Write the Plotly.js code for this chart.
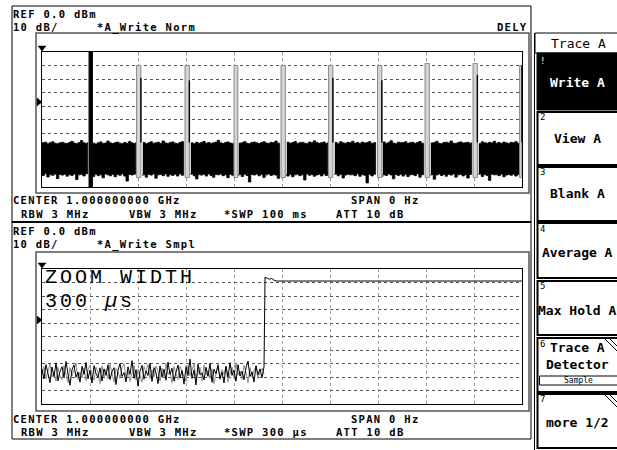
<!DOCTYPE html>
<html><head><meta charset="utf-8">
<script src="https://cdn.plot.ly/plotly-3.0.1.min.js"></script>
<style>html,body{margin:0;padding:0;background:#fff}#chart{width:617px;height:450px}</style>
</head><body><div id="chart"></div>
<script>
// ---------- DATA ----------
// Top trace (100 ms sweep): noise band envelopes, sampled every 0.5 ms (dBm)
const topStepMs = 0.5;
const noiseUpper = [
-67.2,-66.8,-67.9,-67.1,-66.5,-67.6,-68.0,-67.3,-66.9,-67.5,
-67.8,-67.0,-66.2,-67.4,-67.9,-67.1,-65.6,-67.3,-67.7,-66.9,
-67.0,-67.5,-68.1,-67.2,-66.6,-67.7,-67.4,-66.0,-67.3,-67.8,
-67.2,-66.7,-67.5,-67.9,-67.0,-67.6,-66.3,-67.2,-67.8,-67.1,
-66.9,-67.4,-67.0,-68.0,-67.3,-66.5,-67.6,-67.2,-66.8,-67.7,
-65.9,-67.3,-67.8,-67.0,-66.6,-67.5,-67.9,-67.1,-66.4,-67.4,
-67.6,-66.8,-67.3,-67.9,-66.9,-67.5,-67.1,-66.2,-67.6,-67.0,
-67.7,-67.2,-66.7,-65.4,-67.3,-67.8,-67.0,-66.6,-67.4,-67.9,
-67.1,-66.8,-67.5,-67.2,-66.4,-67.6,-67.9,-67.0,-66.7,-67.3,
-67.8,-67.1,-66.5,-67.4,-67.7,-66.9,-67.2,-66.0,-67.5,-67.8,
-67.0,-67.4,-66.8,-67.6,-67.1,-66.3,-67.7,-67.2,-66.9,-67.5,
-67.9,-66.6,-67.3,-65.8,-67.0,-67.6,-67.2,-66.7,-67.8,-67.1,
-66.8,-67.5,-67.0,-67.9,-66.5,-67.3,-67.7,-66.9,-67.2,-66.1,
-67.6,-67.0,-67.8,-66.7,-67.4,-67.1,-66.4,-67.7,-67.3,-66.9,
-67.5,-67.2,-66.6,-67.8,-67.0,-65.7,-67.4,-67.9,-66.8,-67.3,
-67.1,-66.5,-67.6,-67.2,-66.9,-67.7,-67.0,-66.3,-67.5,-67.8,
-67.2,-66.7,-67.4,-67.0,-66.2,-67.6,-67.9,-67.1,-66.8,-67.3,
-65.9,-67.5,-67.8,-67.0,-66.6,-67.4,-67.2,-66.9,-67.7,-67.1,
-66.8,-67.3,-67.9,-66.5,-67.2,-67.6,-66.9,-67.4,-66.1,-67.5,
-67.0,-67.7,-66.7,-67.3,-67.8,-66.9,-67.2,-66.4,-67.6,-67.0,
-67.3];
const noiseLower = [
-90.8,-91.5,-90.2,-92.6,-90.9,-91.3,-90.4,-93.8,-90.7,-91.2,
-90.5,-92.0,-90.9,-91.4,-90.3,-94.5,-91.0,-90.6,-91.8,-90.2,
-91.1,-90.7,-92.3,-90.5,-91.6,-90.9,-93.2,-90.4,-91.0,-91.7,
-90.6,-92.4,-90.8,-91.3,-90.2,-91.9,-95.6,-90.7,-91.1,-90.5,
-91.4,-90.3,-91.8,-90.9,-92.7,-90.6,-91.2,-90.4,-93.5,-91.0,
-90.7,-91.6,-90.3,-92.1,-90.8,-91.4,-90.5,-91.9,-90.2,-91.3,
-92.5,-90.6,-91.1,-90.4,-91.7,-94.0,-90.8,-91.2,-90.5,-91.9,
-90.3,-91.5,-92.8,-90.7,-91.0,-90.4,-91.6,-90.9,-93.1,-90.6,
-91.3,-90.2,-91.8,-90.7,-92.2,-90.5,-91.4,-96.3,-90.8,-91.1,
-90.4,-91.7,-90.6,-92.9,-91.0,-90.3,-91.5,-90.8,-91.2,-93.6,
-90.7,-91.4,-90.2,-91.9,-90.6,-92.4,-91.0,-90.5,-91.6,-90.9,
-94.8,-90.4,-91.3,-90.7,-92.0,-91.1,-90.5,-91.8,-90.3,-91.5,
-90.8,-92.6,-91.0,-90.4,-91.7,-90.6,-93.3,-91.2,-90.5,-91.0,
-90.9,-91.6,-90.2,-92.1,-90.7,-91.3,-97.0,-90.5,-91.8,-90.6,
-91.2,-90.4,-92.5,-90.9,-91.5,-90.3,-91.1,-93.9,-90.7,-91.4,
-90.6,-91.9,-90.5,-92.3,-91.0,-90.8,-91.6,-90.2,-92.8,-90.9,
-91.3,-90.5,-91.7,-90.8,-94.2,-91.1,-90.4,-91.5,-90.7,-92.0,
-90.6,-91.2,-90.3,-92.7,-91.0,-90.5,-91.8,-90.9,-93.4,-90.7,
-91.4,-90.6,-91.1,-90.3,-92.2,-90.8,-91.5,-95.1,-90.5,-91.0,
-90.9,-91.6,-90.4,-92.4,-91.2,-90.7,-91.3,-90.5,-91.9,-90.8,
-91.1];
// Bursts in the top trace (ms, dBm)
const pulseStart = [9.8, 19.7, 29.8, 40.0, 49.8, 59.7, 69.9, 79.8, 89.8, 99.5];
const pulseEnd   = [10.5, 20.6, 30.7, 40.8, 50.7, 60.6, 70.8, 80.7, 90.7, 100.0];
const pulseTop   = [0, -10, -10, -10, -10, -10, -10, -8.5, -8.5, -10];
const pulseEdge  = [null, -19, -21, null, null, -19, -21, null, -17, -10];
const pulseFloor = -93;

// Bottom trace (300 us sweep): noise before the burst, every 1.25 us (dBm)
const botStepUs = 1.25;
const noiseBlack = [
-74.0,-81.5,-70.8,-78.9,-84.2,-72.6,-79.7,-69.5,-82.8,-75.9,
-72.3,-80.6,-68.4,-77.8,-86.1,-74.5,-71.0,-80.2,-76.3,-83.9,
-72.0,-78.1,-69.2,-81.4,-74.9,-84.5,-71.6,-77.4,-80.3,-73.2,
-83.0,-74.0,-78.8,-70.9,-81.9,-76.0,-73.1,-85.6,-75.1,-70.1,
-79.6,-76.8,-83.7,-72.5,-78.0,-67.9,-80.9,-74.6,-86.8,-75.8,
-71.4,-81.7,-75.6,-78.9,-69.9,-83.3,-73.0,-77.0,-84.9,-71.8,
-79.9,-74.2,-82.4,-69.0,-78.1,-73.5,-83.0,-76.4,-71.2,-80.8,
-75.2,-85.3,-72.4,-78.9,-66.8,-81.1,-74.7,-85.9,-70.5,-78.4,
-76.9,-82.1,-72.8,-79.6,-69.8,-84.0,-74.3,-77.6,-71.5,-81.6,
-76.4,-84.4,-72.0,-80.1,-69.3,-78.8,-74.9,-83.2,-70.9,-79.3,
-75.7,-82.0,-73.2,-68.3,-79.7,-76.1,-83.8,-71.7,-78.3,-74.0,
-80.6,-72.5];
const noiseGray = [
-78.6,-72.1,-81.2,-75.0,-70.3,-80.0,-76.2,-83.1,-72.8,-79.2,
-82.0,-71.5,-77.0,-84.1,-73.0,-79.4,-74.6,-69.6,-81.8,-76.5,
-80.6,-73.2,-82.6,-74.9,-71.1,-78.8,-82.2,-72.7,-76.8,-84.8,
-71.9,-79.8,-74.3,-81.5,-70.6,-77.6,-83.8,-73.6,-76.2,-81.0,
-72.9,-70.1,-80.4,-75.3,-83.2,-77.2,-71.5,-82.3,-74.1,-78.5,
-83.9,-72.3,-76.6,-70.7,-81.2,-74.8,-80.0,-71.7,-76.0,-83.0,
-73.4,-80.6,-70.0,-78.0,-75.6,-84.5,-72.2,-77.4,-81.9,-72.0,
-76.4,-79.7,-83.3,-71.4,-79.0,-74.6,-70.4,-81.5,-76.9,-72.8,
-82.8,-71.1,-78.3,-75.2,-81.1,-73.9,-85.0,-76.0,-70.2,-80.4,
-74.5,-77.9,-72.3,-83.6,-77.1,-72.8,-80.9,-69.4,-78.6,-75.6,
-81.8,-71.4,-76.5,-84.2,-73.1,-79.6,-75.4,-71.8,-81.3,-76.2,
-73.6,-78.2];
// Burst rising edge and plateau (us, dBm)
const burstTimes  = [139.4, 139.6, 140.8, 142.3, 143.6, 145.0, 146.6, 300];
const burstLevels = [-5.9, -6.2, -6.9, -7.5, -7.0, -8.3, -8.9, -8.9];

// Annotation texts
const topHeader = {ref:'REF 0.0 dBm', scale:'10 dB/', mode:'*A_Write Norm', flag:'DELY',
  center:'CENTER 1.000000000 GHz', span:'SPAN 0 Hz', rbw:'RBW 3 MHz', vbw:'VBW 3 MHz', swp:'*SWP 100 ms', att:'ATT 10 dB'};
const botHeader = {ref:'REF 0.0 dBm', scale:'10 dB/', mode:'*A_Write Smpl',
  center:'CENTER 1.000000000 GHz', span:'SPAN 0 Hz', rbw:'RBW 3 MHz', vbw:'VBW 3 MHz', swp:'*SWP 300 µs', att:'ATT 10 dB'};
const softTitle = 'Trace A';
const softLabels = ['Write A','View A','Blank A','Average A','Max Hold A','Trace A<br>Detector','more 1/2'];
const softNums = ['!','2','3','4','5','6','7'];

// ---------- BUILD ----------
const W = 617, H = 450;
const PX = x => x / W, PY = y => 1 - y / H;
const MONO = 'DejaVu Sans Mono';
const traces = [];

// top noise band, one filled polygon per gap between bursts
const tTop = noiseUpper.map((_, i) => i * topStepMs);
const segStarts = [0].concat(pulseEnd.slice(0, -1));
const segEnds = pulseStart;
for (let k = 0; k < segStarts.length; k++) {
  const idx = tTop.map((t, i) => i).filter(i => tTop[i] >= segStarts[k] && tTop[i] <= segEnds[k]);
  const xs = idx.map(i => tTop[i]).concat(idx.slice().reverse().map(i => tTop[i]));
  const ys = idx.map(i => noiseUpper[i]).concat(idx.slice().reverse().map(i => noiseLower[i]));
  traces.push({x: xs, y: ys, xaxis:'x', yaxis:'y', mode:'lines', fill:'toself',
    fillcolor:'#000', line:{color:'#000', width:0.8, shape:'hv'}, hoverinfo:'skip'});
}
// bursts
for (let k = 0; k < pulseStart.length; k++) {
  const s = pulseStart[k], e = pulseEnd[k], top = pulseTop[k];
  const first = k === 0;
  const bot = first ? -100 : pulseFloor;
  traces.push({x:[s, s, e, e, s], y:[bot, top, top, bot, bot], xaxis:'x', yaxis:'y',
    mode:'lines', fill:'toself', fillcolor: first ? '#000' : '#d4d4d4',
    line:{color: first ? '#000' : '#8a8a8a', width:1}, hoverinfo:'skip'});
  if (pulseEdge[k] !== null) {
    traces.push({x:[e, e], y:[pulseEdge[k], -67], xaxis:'x', yaxis:'y', mode:'lines',
      line:{color:'#000', width:1.4}, hoverinfo:'skip'});
  }
}
// bottom traces
const tBot = noiseBlack.map((_, i) => i * botStepUs);
traces.push({x: tBot, y: noiseGray, xaxis:'x2', yaxis:'y2', mode:'lines',
  line:{color:'#8c8c8c', width:1}, hoverinfo:'skip'});
traces.push({x: tBot.concat(burstTimes), y: noiseBlack.concat(burstLevels), xaxis:'x2', yaxis:'y2',
  mode:'lines', line:{color:'#000', width:1}, hoverinfo:'skip'});

// axes
function xax(range, dtick, anchor) {
  return {domain:[PX(42), PX(522)], range: range, dtick: dtick, anchor: anchor,
    showgrid:true, gridcolor:'#9a9a9a', griddash:'dot', gridwidth:1,
    zeroline:false, showticklabels:false, ticks:'', showline:true, mirror:true,
    linecolor:'#000', linewidth:1, fixedrange:true};
}
function yax(y0, y1, anchor) {
  return {domain:[PY(y1), PY(y0)], range:[-100, 0], dtick:10, anchor: anchor,
    showgrid:true, gridcolor:'#555', griddash:'dot', gridwidth:1,
    zeroline:false, showticklabels:false, ticks:'', showline:true, mirror:true,
    linecolor:'#000', linewidth:1, fixedrange:true};
}

// shapes
const shapes = [];
function rect(x0, y0, x1, y1, color, width, fill) {
  shapes.push({type:'rect', xref:'paper', yref:'paper', x0:PX(x0), x1:PX(x1), y0:PY(y1), y1:PY(y0),
    line:{color:color, width:width}, fillcolor: fill || 'rgba(0,0,0,0)', layer:'above'});
}
function line(x0, y0, x1, y1, color, width) {
  shapes.push({type:'line', xref:'paper', yref:'paper', x0:PX(x0), x1:PX(x1), y0:PY(y0), y1:PY(y1),
    line:{color:color, width:width}, layer:'above'});
}
function tri(pts) {
  const d = 'M ' + pts.map(p => PX(p[0]) + ' ' + PY(p[1])).join(' L ') + ' Z';
  shapes.push({type:'path', xref:'paper', yref:'paper', path:d, fillcolor:'#000', line:{color:'#000', width:0.5}, layer:'above'});
}
// outer frame + divider
rect(12, 6, 531, 439, '#000', 1);
line(12, 222, 531, 222, '#000', 2);
// inner graph frames
rect(36, 33, 529, 193, '#555', 1.5);
rect(36, 252, 529, 411, '#555', 1.5);
// markers
tri([[38,46],[46,46],[42,51]]);
tri([[37,98],[37,106],[42,102]]);
tri([[38,263],[46,263],[42,268]]);
tri([[37,316],[37,324],[42,320]]);
// softkey panel
line(534.5, 33, 534.5, 450, '#000', 1);
rect(535, 33, 620, 53, '#000', 1);
rect(537, 53, 620, 110, '#000', 1, '#000');
const boxes = [[112,165],[167,221],[223,278],[281,335],[338,392],[394,448]];
boxes.forEach(b => rect(537.5, b[0], 620, b[1], '#000', 2));
line(604, 338, 617, 351, '#000', 1);
line(609, 338, 617, 346, '#000', 1);
line(604, 394, 617, 407, '#000', 1);
line(609, 394, 617, 402, '#000', 1);
rect(539.5, 376, 620, 385, '#000', 1);

// annotations
const annotations = [];
function ann(text, x, y, o) {
  o = o || {};
  const t = o.spacing ? '<span style="letter-spacing:' + o.spacing + 'px">' + text + '</span>' : text;
  annotations.push({xref:'paper', yref:'paper', x:PX(x), y:PY(y), text:t, showarrow:false,
    xanchor:o.anchor || 'left', yanchor:'middle', borderpad:0,
    font:{family:o.family || MONO, size:o.size || 10.5, color:o.color || '#000', weight:o.weight || 'normal'}});
}
const HS = {spacing:1.3, weight:'bold'};
function header(h, yRef, yScale, yCenter, yRow2, showFlag) {
  ann(h.ref, 12, yRef, HS);
  ann(h.scale, 12, yScale, HS);
  ann(h.mode, 96, yScale, HS);
  if (showFlag) ann(h.flag, 529, yScale, {anchor:'right', spacing:1.3, weight:'bold'});
  ann(h.center, 12, yCenter, HS);
  ann(h.span, 350, yCenter, HS);
  ann(h.rbw, 20, yRow2, HS);
  ann(h.vbw, 128, yRow2, HS);
  ann(h.swp, 223, yRow2, HS);
  ann(h.att, 335, yRow2, HS);
}
header(topHeader, 14, 27, 200, 214, true);
header(botHeader, 231, 244, 419, 431.5, false);
ann('ZOOM WIDTH', 44, 277, {family:'Liberation Mono', size:20, spacing:3});
ann('300 <i>µ</i>s', 44, 301, {family:'Liberation Mono', size:20, spacing:3});

// softkeys
ann(softTitle, 578, 44, {anchor:'center', size:13});
const labelY = [82, 138, 193, 253, 310, 356, 422];
const numY = [61, 117, 172, 229, 286, 344, 399];
softLabels.forEach((t, i) => ann(t, 577, labelY[i], {anchor:'center', size:13, weight:'bold', color: i === 0 ? '#fff' : '#000'}));
softNums.forEach((t, i) => ann(t, 539, numY[i], {size:9, color: i === 0 ? '#fff' : '#000'}));
ann('Sample', 578, 380.5, {anchor:'center', size:8});

const layout = {width:W, height:H, margin:{l:0, r:0, t:0, b:0}, showlegend:false,
  paper_bgcolor:'#fff', plot_bgcolor:'#fff',
  xaxis: xax([0, 100], 10, 'y'), yaxis: yax(52, 187, 'x'),
  xaxis2: xax([0, 300], 30, 'y2'), yaxis2: yax(269, 404, 'x2'),
  shapes: shapes, annotations: annotations};

Plotly.newPlot('chart', traces, layout, {staticPlot:true, displayModeBar:false});
</script></body></html>
